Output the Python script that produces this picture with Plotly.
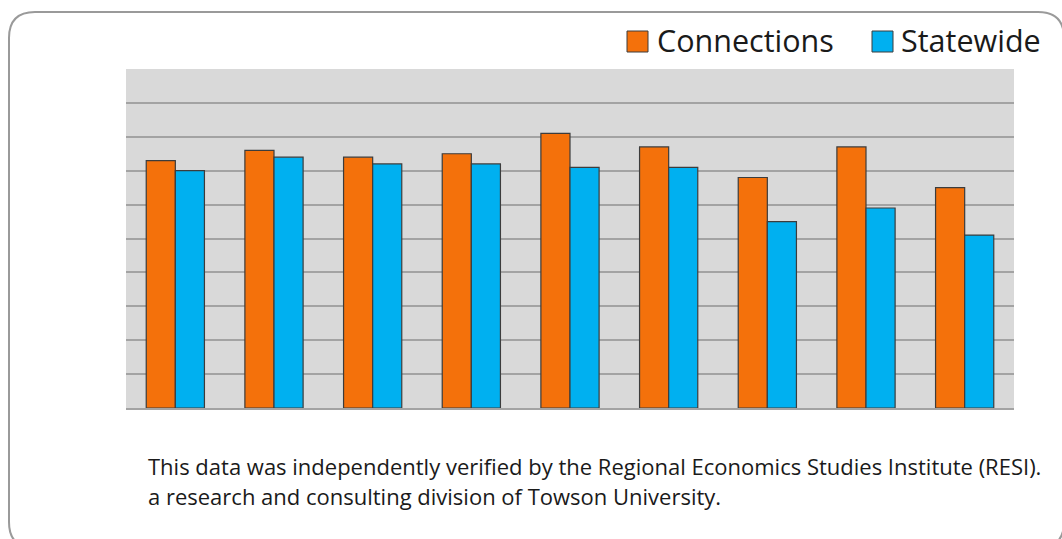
import plotly.graph_objects as go

# Chart data
groups = ["G1", "G2", "G3", "G4", "G5", "G6", "G7", "G8", "G9"]
connections = [73, 76, 74, 75, 81, 77, 68, 77, 65]
statewide = [70, 74, 72, 72, 71, 71, 55, 59, 51]
series_names = ["Connections", "Statewide"]
note_lines = [
    "This data was independently verified by the Regional Economics Studies Institute (RESI).",
    "a research and consulting division of Towson University.",
]

W, H = 1062, 539
ML, MR, MT, MB = 126, 48, 69, 131
PW, PH = W - ML - MR, H - MT - MB

ORANGE = "#F4710B"
BLUE = "#00B0F0"
EDGE = "#3c3c3c"
FONT = "Open Sans"


def px(x):
    return (x - ML) / PW


def py(y):
    return (H - MB - y) / PH


fig = go.Figure()
fig.add_trace(go.Bar(x=groups, y=connections, name=series_names[0],
                     marker=dict(color=ORANGE, line=dict(color=EDGE, width=1.2))))
fig.add_trace(go.Bar(x=groups, y=statewide, name=series_names[1],
                     marker=dict(color=BLUE, line=dict(color=EDGE, width=1.2))))

# Rounded frame around the whole graphic
x0, y0, x1, y1, r = 9, 12, 1064, 548, 26
frame = (f"M {px(x0)},{py(y0 + r)} "
         f"Q {px(x0)},{py(y0)} {px(x0 + r)},{py(y0)} "
         f"L {px(x1 - r)},{py(y0)} "
         f"Q {px(x1)},{py(y0)} {px(x1)},{py(y0 + r)} "
         f"L {px(x1)},{py(y1 - r)} "
         f"Q {px(x1)},{py(y1)} {px(x1 - r)},{py(y1)} "
         f"L {px(x0 + r)},{py(y1)} "
         f"Q {px(x0)},{py(y1)} {px(x0)},{py(y1 - r)} Z")
shapes = [dict(type="path", path=frame, xref="paper", yref="paper",
               line=dict(color="#9a9a9a", width=2), fillcolor="rgba(0,0,0,0)",
               layer="below")]

# Legend swatches and labels
legend_items = [(627, 655, ORANGE), (872, 899, BLUE)]
annotations = []
for (sx, tx, col), name in zip(legend_items, series_names):
    shapes.append(dict(type="rect", xref="paper", yref="paper",
                       x0=px(sx), x1=px(sx + 21), y0=py(52), y1=py(31),
                       fillcolor=col, line=dict(color=EDGE, width=1)))
    annotations.append(dict(text=name, xref="paper", yref="paper",
                            x=px(tx), y=py(40), xanchor="left", yanchor="middle",
                            showarrow=False, font=dict(family=FONT, size=30.5, color="#1a1a1a")))

# Footnote
for line, yy in zip(note_lines, [466, 496]):
    annotations.append(dict(text=line, xref="paper", yref="paper",
                            x=px(146), y=py(yy), xanchor="left", yanchor="middle",
                            showarrow=False, font=dict(family=FONT, size=22, color="#1a1a1a")))

fig.update_layout(
    width=W, height=H,
    margin=dict(l=ML, r=MR, t=MT, b=MB, pad=0),
    paper_bgcolor="white",
    plot_bgcolor="#d9d9d9",
    barmode="group",
    bargap=0.41,
    bargroupgap=0,
    showlegend=False,
    shapes=shapes,
    annotations=annotations,
    font=dict(family=FONT),
)
fig.update_yaxes(range=[0, 100], dtick=10, showticklabels=False, showgrid=True,
                 gridcolor="#a3a3a3", gridwidth=1.6, zeroline=False, ticks="",
                 showline=False)
fig.update_xaxes(showticklabels=False, ticks="", showgrid=False, zeroline=False,
                 showline=True, linecolor="#a3a3a3", linewidth=1.6)

fig.write_html("out.html")
